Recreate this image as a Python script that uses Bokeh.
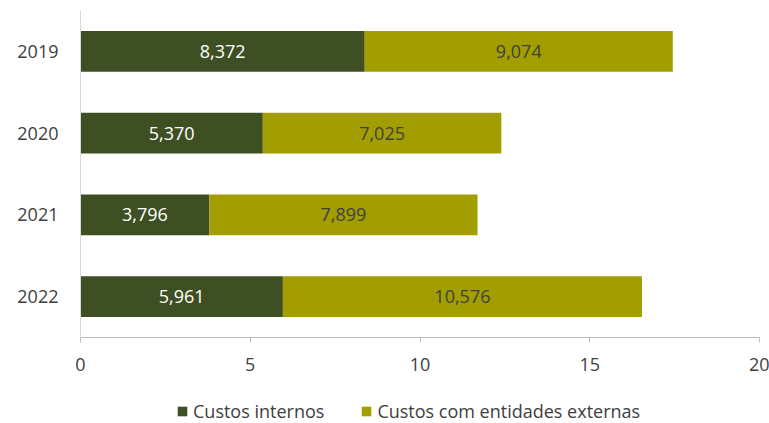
from bokeh.plotting import figure
from bokeh.layouts import column
from bokeh.models import ColumnDataSource, LabelSet, FactorRange, Range1d, FixedTicker, Legend, LegendItem
from bokeh.core.properties import value
from bokeh.embed import file_html
from bokeh.resources import INLINE

years = ["2019", "2020", "2021", "2022"]
internos = [8.372, 5.370, 3.796, 5.961]
externos = [9.074, 7.025, 7.899, 10.576]
x_ticks = [0, 5, 10, 15, 20]
series_names = ["Custos internos", "Custos com entidades externas"]
colors = ["#3e4f23", "#a29e00"]

FONT = "Open Sans"
FS = "18px"
TXT = "#404040"

src = ColumnDataSource(dict(year=years, internos=internos, externos=externos))

p = figure(y_range=FactorRange(factors=list(reversed(years))), x_range=Range1d(0, 20),
           width=769, height=382, output_backend="svg", toolbar_location=None,
           min_border_left=80, min_border_right=10, min_border_top=10, min_border_bottom=45)
p.outline_line_color = None
p.xgrid.grid_line_color = None
p.ygrid.grid_line_color = None

rs = p.hbar_stack(["internos", "externos"], y="year", height=0.5, color=colors, source=src,
                  line_color=None)

# data labels
mid_int = [v / 2 for v in internos]
mid_ext = [a + b / 2 for a, b in zip(internos, externos)]
lbl_int = [f"{v:.3f}".replace(".", ",") for v in internos]
lbl_ext = [f"{v:.3f}".replace(".", ",") for v in externos]
s1 = ColumnDataSource(dict(x=mid_int, y=years, t=lbl_int))
s2 = ColumnDataSource(dict(x=mid_ext, y=years, t=lbl_ext))
p.add_layout(LabelSet(x="x", y="y", text="t", source=s1, text_align="center", text_baseline="middle",
                      text_color="white", text_font=value(FONT), text_font_size=value(FS)))
p.add_layout(LabelSet(x="x", y="y", text="t", source=s2, text_align="center", text_baseline="middle",
                      text_color=TXT, text_font=value(FONT), text_font_size=value(FS)))

xa = p.xaxis[0]
xa.ticker = FixedTicker(ticks=x_ticks)
xa.minor_tick_line_color = None
xa.major_tick_in = 0
xa.major_tick_out = 5
xa.major_tick_line_color = "#bfbfbf"
xa.axis_line_color = "#bfbfbf"
xa.major_label_standoff = 15
xa.major_label_text_font = FONT
xa.major_label_text_font_size = FS
xa.major_label_text_color = TXT

ya = p.yaxis[0]
ya.major_tick_line_color = None
ya.minor_tick_line_color = None
ya.axis_line_color = "#d9d9d9"
ya.major_label_standoff = 16
ya.major_label_text_font = FONT
ya.major_label_text_font_size = FS
ya.major_label_text_color = TXT

# legend strip (frame aligned with main plot's frame by the column layout)
p2 = figure(width=769, height=41, output_backend="svg", toolbar_location=None,
            x_range=Range1d(0, 1), y_range=Range1d(0, 1), x_axis_type=None, y_axis_type=None,
            min_border=0)
p2.outline_line_color = None
p2.xgrid.grid_line_color = None
p2.ygrid.grid_line_color = None
lsrc = ColumnDataSource(dict(y=[0.5], l=[0.0], r=[0.0]))
lrs = [p2.hbar(y="y", left="l", right="r", height=0.0, fill_color=c, line_color=None, source=lsrc)
       for c in colors]

lg = Legend(items=[LegendItem(label=n, renderers=[r]) for n, r in zip(series_names, lrs)])
lg.orientation = "horizontal"
lg.location = (96, 0)
lg.padding = 0
lg.margin = 0
lg.spacing = 36
lg.glyph_width = 12
lg.glyph_height = 12
lg.label_standoff = 5
lg.label_text_font = FONT
lg.label_text_font_size = FS
lg.label_text_color = TXT
lg.border_line_color = None
lg.background_fill_alpha = 0
p2.add_layout(lg, "center")

layout = column(p, p2, spacing=0)
open("out.html", "w").write(file_html(layout, INLINE))
